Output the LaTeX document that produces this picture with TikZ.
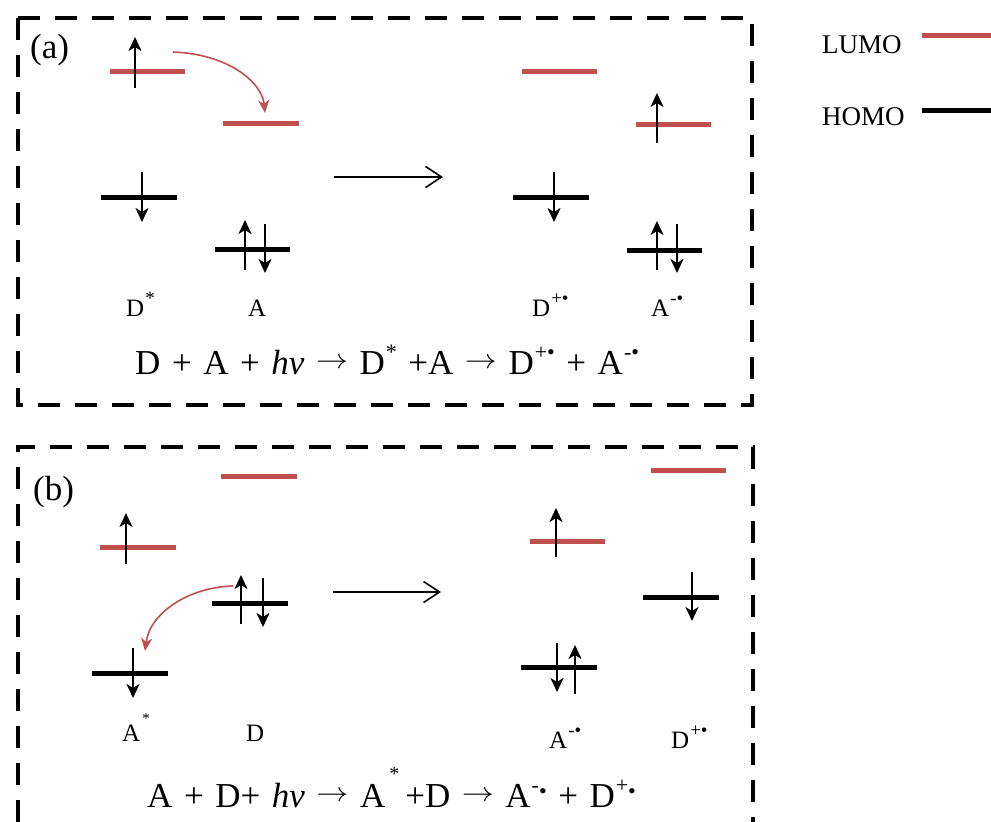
\documentclass[tikz,border=0pt]{standalone}
\usepackage{fontspec}
\setmainfont{Liberation Serif}
\usetikzlibrary{arrows.meta}
\definecolor{lumored}{RGB}{192,80,77}
\newcommand{\eqspace}{\spaceskip=0.33em plus 0.1em\relax}
\newcommand{\rarr}{\raisebox{6pt}{\resizebox{32pt}{10pt}{\fontsize{10}{12}\selectfont$\rightarrow$}}}
\newcommand{\eqsup}[1]{\kern1pt\raisebox{0.42em}{\fontsize{22}{22}\selectfont #1}}
\newcommand{\lbsup}[1]{\kern1pt\raisebox{0.45em}{\fontsize{19}{19}\selectfont #1}}
\begin{document}
\begin{tikzpicture}[x=1pt,y=-1pt,
  lumo/.style={draw=lumored,line width=5pt},
  homo/.style={draw=black,line width=5pt},
  spin/.style={line width=2pt,-{Stealth[length=14pt,width=13pt,inset=4pt]}},
  transfer/.style={draw=lumored,line width=1.6pt,-{Stealth[length=13pt,width=11pt,inset=4pt]}},
  proc/.style={line width=1.6pt,-{Straight Barb[length=16pt,width=21pt]}},
  frame/.style={line width=4pt,dash pattern=on 22pt off 15pt},
  lbl/.style={font=\fontsize{25}{28}\selectfont,anchor=base west,inner sep=0pt},
  eqn/.style={font=\fontsize{35}{40}\selectfont\eqspace,anchor=base west,inner sep=0pt},
  panel/.style={font=\fontsize{35}{38}\selectfont,anchor=base west,inner sep=0pt},
  legend/.style={font=\fontsize{27}{30}\selectfont,anchor=base west,inner sep=0pt},
]
\useasboundingbox (0,0) rectangle (991,822);

% frames
\draw[frame] (18,18) rectangle (752,405);
\draw[frame] (18,822) -- (18,447) -- (753,447) -- (753,822);

% legend
\node[legend] (lumolbl) at (822,53) {LUMO};
\node[legend] (homolbl) at (822,125) {HOMO};
\draw[lumo] (922,35) -- (991,35);
\draw[homo] (922,110) -- (991,110);

% ---------- panel (a) ----------
\node[panel] (pa) at (30,58) {(a)};
\draw[lumo] (110,71) -- (185,71);
\draw[lumo] (223,123) -- (299,123);
\draw[homo] (101,197) -- (177,197);
\draw[homo] (215,249) -- (290,249);
\draw[spin] (135,88) -- (135,37);
\draw[spin] (142,172) -- (142,222);
\draw[spin] (245,270) -- (245,220);
\draw[spin] (265,224) -- (265,273);
\coordinate (ta1) at (173,52);
\coordinate (ta2) at (265,113);
\draw[transfer] (ta1) .. controls (228,54) and (262,82) .. (ta2);
\coordinate (pa1) at (334,177);
\coordinate (pa2) at (443,177);
\draw[proc] (pa1) -- (pa2);

\draw[lumo] (522,71) -- (597,71);
\draw[homo] (513,197) -- (589,197);
\draw[spin] (554,172) -- (554,222);
\draw[lumo] (636,124) -- (711,124);
\draw[spin] (657,143) -- (657,93);
\draw[homo] (627,250) -- (702,250);
\draw[spin] (657,270) -- (657,221);
\draw[spin] (677,224) -- (677,273);

\node[lbl] (la1) at (126,316) {D\lbsup{*}};
\node[lbl] (la2) at (248,316) {A};
\node[lbl] (la3) at (532,316) {D\lbsup{+•}};
\node[lbl] (la4) at (651,316) {A\lbsup{-•}};
\node[eqn] (eqa) at (135,374) {D + A + \textit{hv} \rarr{} D\eqsup{*} +A \rarr{} D\eqsup{+•} + A\eqsup{-•}};

% ---------- panel (b) ----------
\node[panel] (pb) at (33,500) {(b)};
\draw[lumo] (100,547) -- (176,547);
\draw[spin] (126,564) -- (126,513);
\draw[lumo] (221,476) -- (297,476);
\draw[homo] (212,603) -- (288,603);
\draw[spin] (241,624) -- (241,575);
\draw[spin] (263,578) -- (263,627);
\draw[homo] (92,673) -- (168,673);
\draw[spin] (133,648) -- (133,698);
\coordinate (tb1) at (233,586);
\coordinate (tb2) at (145,651);
\draw[transfer] (tb1) .. controls (190,587) and (150,612) .. (tb2);
\coordinate (pb1) at (333,592);
\coordinate (pb2) at (441,592);
\draw[proc] (pb1) -- (pb2);

\draw[lumo] (530,541) -- (605,541);
\draw[spin] (556,557) -- (556,508);
\draw[lumo] (651,470) -- (726,470);
\draw[homo] (643,597) -- (719,597);
\draw[spin] (692,572) -- (692,621);
\draw[homo] (521,667) -- (597,667);
\draw[spin] (557,643) -- (557,692);
\draw[spin] (575,694) -- (575,645);

\node[lbl] (lb1) at (122,741) {A\raisebox{0.7em}{\fontsize{15}{15}\selectfont\kern2pt*}};
\node[lbl] (lb2) at (246,741) {D};
\node[lbl] (lb3) at (549,748) {A\lbsup{-•}};
\node[lbl] (lb4) at (671,748) {D\lbsup{+•}};
\node[eqn] (eqb) at (147,807) {A + D+ \textit{hv} \rarr{} A\raisebox{0.75em}{\fontsize{20}{20}\selectfont\kern4pt*}\kern6pt +D \rarr{} A\eqsup{-\raisebox{-0.3em}{•}} + D\eqsup{+\raisebox{-0.3em}{•}}};
\end{tikzpicture}
\end{document}
